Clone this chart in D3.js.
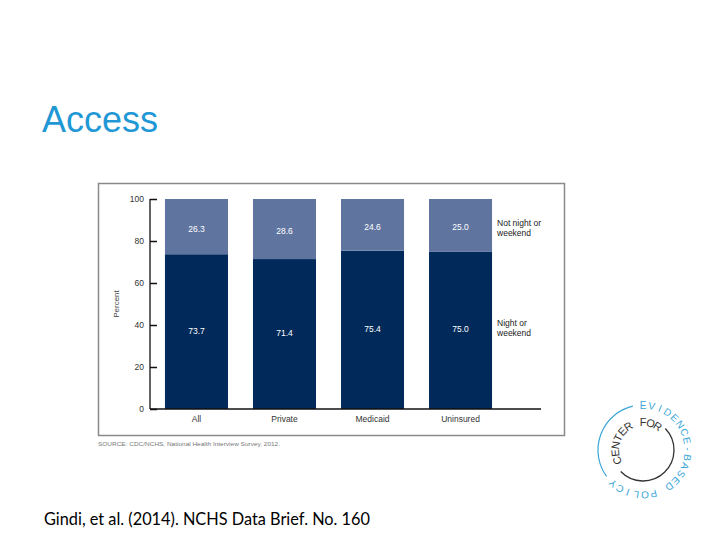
<!DOCTYPE html>
<html>
<head>
<meta charset="utf-8">
<script src="https://cdn.jsdelivr.net/npm/d3@7"></script>
<style>
  html, body { margin: 0; padding: 0; background: #ffffff; }
  svg { display: block; }
</style>
</head>
<body>
<svg id="chart" width="720" height="540"></svg>
<script>
// ---- data ----
const categories = ["All", "Private", "Medicaid", "Uninsured"];
const nightOrWeekend = [73.7, 71.4, 75.4, 75.0];
const notNightOrWeekend = [26.3, 28.6, 24.6, 25.0];
const seriesKeys = ["night", "notNight"];
const seriesLabels = [["Night or", "weekend"], ["Not night or", "weekend"]];
const yTicks = [0, 20, 40, 60, 80, 100];
const titleText = "Access";
const sourceText = "SOURCE: CDC/NCHS, National Health Interview Survey, 2012.";
const citationText = "Gindi, et al. (2014). NCHS Data Brief. No. 160";
const logoOuter = "EVIDENCE-BASED POLICY";
const logoInner = "CENTER FOR";

const colors = { night: "#012a5b", notNight: "#5f75a0" };

const svg = d3.select("#chart");

// Title
svg.append("text")
  .attr("x", 42).attr("y", 132)
  .attr("font-family", "Liberation Sans, Arial, sans-serif")
  .attr("font-size", 36)
  .attr("fill", "#1f98d5")
  .text(titleText);

// Chart frame
svg.append("rect")
  .attr("x", 98.5).attr("y", 183.5)
  .attr("width", 466).attr("height", 252)
  .attr("fill", "#ffffff")
  .attr("stroke", "#8a8a8a").attr("stroke-width", 1.5);

const axisX = 150, x0 = 150, x1 = 507;
const y = d3.scaleLinear().domain([0, 100]).range([409, 199]);
const x = d3.scaleBand().domain(categories).range([x0, x1])
  .paddingInner(0.284).paddingOuter(0.17);

const table = categories.map((c, i) => ({ cat: c, night: nightOrWeekend[i], notNight: notNightOrWeekend[i] }));
const stack = d3.stack().keys(seriesKeys)(table);

const g = svg.append("g");
stack.forEach(layer => {
  g.selectAll(null).data(layer).enter().append("rect")
    .attr("x", d => x(d.data.cat))
    .attr("y", d => y(d[1]))
    .attr("width", x.bandwidth())
    .attr("height", d => y(d[0]) - y(d[1]))
    .attr("fill", colors[layer.key]);
  g.selectAll(null).data(layer).enter().append("text")
    .attr("x", d => x(d.data.cat) + x.bandwidth() / 2)
    .attr("y", d => (y(d[0]) + y(d[1])) / 2 + (layer.key === "notNight" ? 2 : -1))
    .attr("dy", "0.35em")
    .attr("text-anchor", "middle")
    .attr("font-family", "Liberation Sans, Arial, sans-serif")
    .attr("font-size", 8.5)
    .attr("fill", "#ffffff")
    .text(d => (d[1] - d[0]).toFixed(1));
});

// Y axis
const yAxis = d3.axisRight(y).tickValues(yTicks).tickSize(7).tickFormat(d3.format("d"));
const ya = svg.append("g").attr("transform", `translate(${axisX},0)`).call(yAxis);
ya.select(".domain").attr("stroke", "#111").attr("stroke-width", 1.3).attr("d", `M0,${y(100)}V${y(0)}`);
ya.selectAll(".tick line").attr("stroke", "#111").attr("stroke-width", 1.5);
ya.selectAll(".tick text")
  .attr("x", -6).attr("text-anchor", "end")
  .attr("font-family", "Liberation Sans, Arial, sans-serif")
  .attr("font-size", 8.5).attr("fill", "#333");

// X axis baseline
svg.append("line")
  .attr("x1", axisX).attr("x2", 541)
  .attr("y1", y(0)).attr("y2", y(0))
  .attr("stroke", "#111").attr("stroke-width", 1.3);
const xa = svg.append("g").attr("transform", `translate(0,${y(0)})`)
  .call(d3.axisBottom(x).tickSize(0).tickPadding(7));
xa.select(".domain").remove();
xa.selectAll(".tick text")
  .attr("font-family", "Liberation Sans, Arial, sans-serif")
  .attr("font-size", 8.5).attr("fill", "#333");

// Y axis title
svg.append("text")
  .attr("transform", `translate(119,${(y(0) + y(100)) / 2}) rotate(-90)`)
  .attr("text-anchor", "middle")
  .attr("font-family", "Liberation Sans, Arial, sans-serif")
  .attr("font-size", 8).attr("fill", "#444")
  .text("Percent");

// Series labels at right
const lastCat = categories[categories.length - 1];
const labelOffset = { night: -4, notNight: 1 };
stack.forEach((layer, li) => {
  const d = layer[layer.length - 1];
  const cy = (y(d[0]) + y(d[1])) / 2;
  const lx = x(lastCat) + x.bandwidth() + 5;
  const t = svg.append("text")
    .attr("x", lx)
    .attr("y", cy + labelOffset[layer.key])
    .attr("font-family", "Liberation Sans, Arial, sans-serif")
    .attr("font-size", 8.5).attr("fill", "#222");
  seriesLabels[li].forEach((s, k) => {
    t.append("tspan").attr("x", lx).attr("dy", k === 0 ? 0 : 9.5).text(s);
  });
});

// Source
svg.append("text")
  .attr("x", 98).attr("y", 446)
  .attr("font-family", "Liberation Sans, Arial, sans-serif")
  .attr("font-size", 6).attr("fill", "#777")
  .attr("textLength", 182).attr("lengthAdjust", "spacingAndGlyphs")
  .text(sourceText);

// Citation
svg.append("text")
  .attr("x", 44).attr("y", 525)
  .attr("font-family", "Lato, 'Open Sans', sans-serif")
  .attr("font-size", 17).attr("fill", "#000")
  .attr("textLength", 326).attr("lengthAdjust", "spacingAndGlyphs")
  .text(citationText);

// Logo
const cx = 643, cyL = 450;
const rad = a => (a * Math.PI) / 180;
function arcPath(r, a0, a1) {
  const p = a => [cx + r * Math.sin(rad(a)), cyL - r * Math.cos(rad(a))];
  const [sx, sy] = p(a0), [ex, ey] = p(a1);
  const large = (a1 - a0) > 180 ? 1 : 0;
  return `M${sx},${sy}A${r},${r} 0 ${large} 1 ${ex},${ey}`;
}
function circleText(str, r, firstAngle, slot, size, color) {
  const chars = str.split("");
  const grp = svg.append("g")
    .attr("font-family", "Liberation Sans, Arial, sans-serif")
    .attr("font-size", size).attr("fill", color);
  chars.forEach((ch, i) => {
    if (ch === " ") return;
    const a = firstAngle + i * slot;
    grp.append("text")
      .attr("transform", `translate(${cx + r * Math.sin(rad(a))},${cyL - r * Math.cos(rad(a))}) rotate(${a})`)
      .attr("text-anchor", "middle")
      .text(ch);
  });
}

svg.append("path").attr("d", arcPath(45, 234, 347))
  .attr("fill", "none").attr("stroke", "#3aa6d6").attr("stroke-width", 1.2);
svg.append("path").attr("d", arcPath(31, 46, 226))
  .attr("fill", "none").attr("stroke", "#333").attr("stroke-width", 1.3);

circleText(logoOuter, 41.5, 0, 11.1, 10, "#3aa6d6");
circleText(logoInner, 24, -112, 16, 11, "#333");
</script>
</body>
</html>
